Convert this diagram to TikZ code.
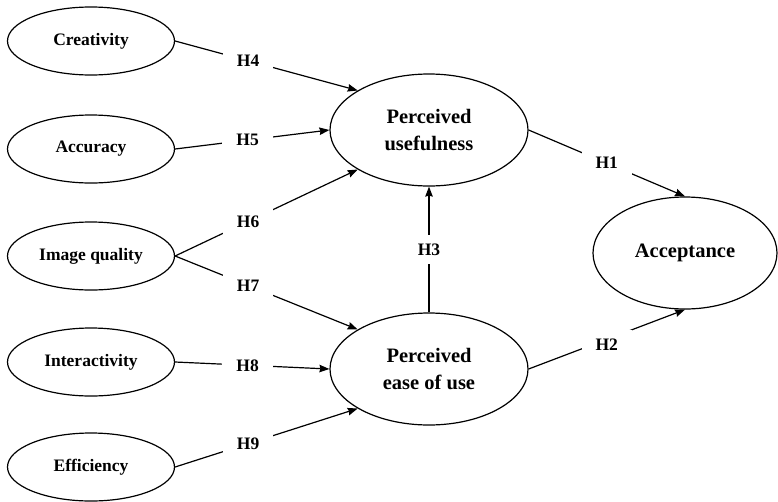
\documentclass[tikz,border=0pt]{standalone}
\usepackage{fontspec}
\setmainfont{Liberation Serif}
\usetikzlibrary{arrows.meta,shapes.geometric}
\begin{document}
\begin{tikzpicture}[x=1pt,y=-1pt,
  small/.style={ellipse,draw,line width=1.2pt,minimum width=167pt,minimum height=68pt,inner sep=0pt,font=\fontsize{17.5}{20}\selectfont\bfseries},
  big/.style={ellipse,draw,line width=1.2pt,minimum width=198pt,minimum height=112pt,inner sep=0pt,align=center,font=\fontsize{20.5}{27}\selectfont\bfseries},
  hyp/.style={fill=white,inner xsep=14pt,inner ysep=9pt,font=\fontsize{17.5}{20}\selectfont\bfseries},
  link/.style={line width=1.2pt,-{Stealth[length=10pt,width=7.5pt,inset=1pt]}}]
\useasboundingbox (0,0) rectangle (778,501);
\node[small] (cre) at (91,41) {Creativity};
\node[small] (accu) at (91,149) {Accuracy};
\node[small] (iq) at (91,256) {Image quality};
\node[small] (inter) at (91,362) {Interactivity};
\node[small] (eff) at (91,467) {Efficiency};
\node[big] (pu) at (429,130) {Perceived\\usefulness};
\node[big] (peou) at (429,369) {Perceived\\ease of use};
\node[big,minimum width=184pt] (acpt) at (685,253) {Acceptance};
\draw[link] (cre.east) -- node[hyp,pos=0.4]{H4} (pu.151);
\draw[link] (accu.east) -- node[hyp,pos=0.47]{H5} (pu.west);
\draw[link] (iq.east) -- node[hyp,pos=0.4]{H6} (pu.209);
\draw[link] (iq.east) -- node[hyp,pos=0.4]{H7} (peou.151);
\draw[link] (inter.east) -- node[hyp,pos=0.47]{H8} (peou.west);
\draw[link] (eff.east) -- node[hyp,pos=0.4]{H9} (peou.209);
\draw[link] (pu.east) -- node[hyp]{H1} (acpt.north);
\draw[link] (peou.east) -- node[hyp,yshift=-5pt]{H2} (acpt.south);
\draw[link] (peou.north) -- node[hyp]{H3} (pu.south);
\end{tikzpicture}
\end{document}
